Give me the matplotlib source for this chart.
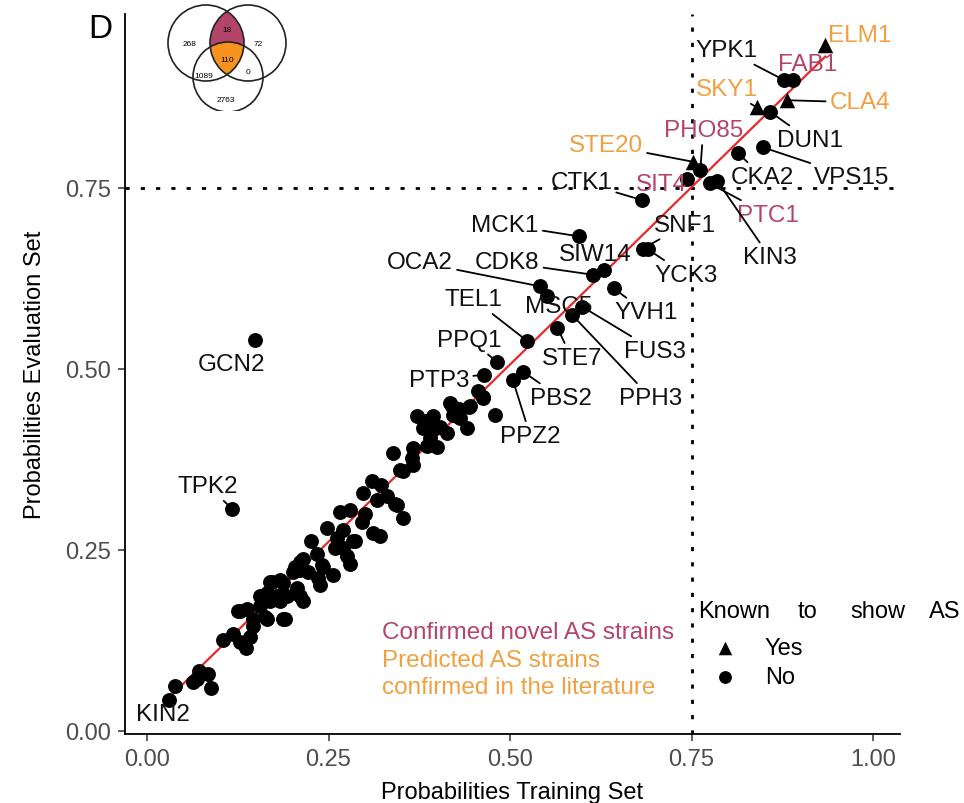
import numpy as np
import matplotlib
matplotlib.use("Agg")
import matplotlib.pyplot as plt
from matplotlib.patches import Circle

plt.rcParams['font.family'] = ['Liberation Sans', 'DejaVu Sans']

CRIMSON = '#b4446a'
ORANGE = '#f0a040'

# labelled kinases: name, training prob, evaluation prob, label x, label y
names = ['ELM1', 'YPK1', 'FAB1', 'CLA4', 'SKY1', 'DUN1', 'VPS15', 'CKA2',
         'STE20', 'PHO85', 'SIT4', 'PTC1', 'KIN3', 'CTK1', 'MCK1', 'SNF1',
         'YCK3', 'SIW14', 'CDK8', 'YVH1', 'OCA2', 'MSC5', 'FUS3', 'PPH3',
         'STE7', 'TEL1', 'PPQ1', 'PTP3', 'PBS2', 'PPZ2', 'GCN2', 'TPK2', 'KIN2']
lab_train = [0.934, 0.877, 0.889, 0.881, 0.840, 0.858, 0.848, 0.814,
             0.752, 0.762, 0.744, 0.775, 0.785, 0.682, 0.595, 0.683,
             0.690, 0.629, 0.614, 0.643, 0.541, 0.551, 0.599, 0.585,
             0.565, 0.523, 0.482, 0.464, 0.518, 0.504, 0.149, 0.117, 0.030]
lab_eval = [0.947, 0.899, 0.899, 0.871, 0.861, 0.855, 0.806, 0.798,
            0.786, 0.774, 0.762, 0.756, 0.760, 0.733, 0.683, 0.666,
            0.665, 0.636, 0.630, 0.611, 0.614, 0.601, 0.586, 0.575,
            0.557, 0.539, 0.510, 0.492, 0.496, 0.484, 0.540, 0.307, 0.043]
text_x = [0.981, 0.798, 0.910, 0.982, 0.798, 0.913, 0.971, 0.848,
          0.632, 0.766, 0.708, 0.855, 0.858, 0.598, 0.493, 0.741,
          0.742, 0.618, 0.496, 0.687, 0.376, 0.567, 0.700, 0.694,
          0.585, 0.450, 0.444, 0.402, 0.570, 0.528, 0.117, 0.084, 0.022]
text_y = [0.961, 0.940, 0.921, 0.868, 0.886, 0.816, 0.765, 0.765,
          0.809, 0.830, 0.755, 0.713, 0.654, 0.758, 0.699, 0.699,
          0.630, 0.658, 0.647, 0.578, 0.647, 0.587, 0.525, 0.460,
          0.515, 0.596, 0.540, 0.485, 0.460, 0.407, 0.507, 0.338, 0.024]
known_as = ['ELM1', 'CLA4', 'SKY1', 'STE20']
novel = ['FAB1', 'PHO85', 'SIT4', 'PTC1']
literature = ['ELM1', 'SKY1', 'CLA4', 'STE20']
no_segment = ['FAB1', 'SIT4', 'MSC5', 'SIW14', 'GCN2', 'KIN2', 'ELM1']

# unlabelled kinases
other_train = [0.039, 0.063, 0.072, 0.084, 0.088, 0.069, 0.105, 0.118, 0.128, 0.136,
               0.142, 0.125, 0.138, 0.146, 0.163, 0.156, 0.165, 0.172, 0.183, 0.190,
               0.187, 0.207, 0.215, 0.211, 0.179, 0.204, 0.215, 0.234, 0.241, 0.222,
               0.256, 0.238, 0.248, 0.270, 0.262, 0.284, 0.270, 0.275, 0.280, 0.266,
               0.280, 0.296, 0.311, 0.321, 0.310, 0.298, 0.317, 0.331, 0.342, 0.353,
               0.339, 0.353, 0.365, 0.366, 0.366, 0.383, 0.394, 0.390, 0.386, 0.399,
               0.413, 0.417, 0.421, 0.431, 0.441, 0.444, 0.463, 0.479, 0.146, 0.165,
               0.187, 0.169, 0.211, 0.344, 0.259, 0.287, 0.242, 0.236, 0.201, 0.183,
               0.156, 0.187, 0.193, 0.169, 0.372, 0.380, 0.397, 0.427, 0.420, 0.445,
               0.463, 0.128, 0.211, 0.226, 0.300, 0.322, 0.348, 0.404, 0.430, 0.456]
other_eval = [0.062, 0.068, 0.083, 0.078, 0.060, 0.072, 0.126, 0.134, 0.123, 0.114,
              0.130, 0.165, 0.169, 0.155, 0.158, 0.173, 0.190, 0.206, 0.179, 0.155,
              0.204, 0.197, 0.179, 0.222, 0.186, 0.227, 0.238, 0.245, 0.229, 0.220,
              0.215, 0.201, 0.280, 0.277, 0.266, 0.263, 0.252, 0.241, 0.231, 0.303,
              0.305, 0.289, 0.273, 0.269, 0.345, 0.328, 0.319, 0.324, 0.314, 0.294,
              0.384, 0.359, 0.377, 0.367, 0.391, 0.428, 0.435, 0.404, 0.393, 0.392,
              0.411, 0.453, 0.436, 0.432, 0.418, 0.447, 0.460, 0.436, 0.145, 0.155,
              0.155, 0.206, 0.234, 0.312, 0.252, 0.262, 0.227, 0.211, 0.220, 0.208,
              0.187, 0.187, 0.187, 0.180, 0.435, 0.418, 0.418, 0.435, 0.449, 0.449,
              0.461, 0.165, 0.187, 0.262, 0.300, 0.340, 0.360, 0.420, 0.445, 0.470]

# Venn counts and their spots (inset pixel units)
venn_counts = ['268', '72', '18', '110', '1089', '0', '2763']
venn_x = [190, 258, 227, 227, 204, 248, 226]
venn_y = [44, 44, 30, 60, 76, 72, 100]

fig = plt.figure(figsize=(9.64, 8.04), dpi=100)
ax = fig.add_axes([0.1297, 0.0858, 0.8039, 0.8955])

all_x = np.array(lab_train + other_train)
all_y = np.array(lab_eval + other_eval)
coef = np.polyfit(all_x, all_y, 1)
xs = np.array([all_x.min() - 0.005, all_x.max()])
ax.plot(xs, np.polyval(coef, xs), color='#e8282a', lw=1.6, zorder=2)

ax.axvline(0.75, color='black', lw=2, ls=(0, (1.5, 4)), zorder=1)
ax.axhline(0.75, color='black', lw=2, ls=(0, (1.5, 4)), zorder=1)

ax.scatter(other_train, other_eval, s=115, color='black', zorder=3, linewidths=0)
for n, x, y in zip(names, lab_train, lab_eval):
    mk = '^' if n in known_as else 'o'
    ax.scatter([x], [y], s=125 if mk == '^' else 115, marker=mk, color='black',
               zorder=3, linewidths=0)

for n, x, y, tx, ty in zip(names, lab_train, lab_eval, text_x, text_y):
    col = CRIMSON if n in novel else (ORANGE if n in literature else '#111111')
    props = None
    if n not in no_segment:
        props = dict(arrowstyle='-', color='black', lw=1.3, shrinkA=1, shrinkB=2)
    ax.annotate(n, xy=(x, y), xytext=(tx, ty), ha='center', va='center',
                fontsize=17.5, color=col, arrowprops=props, zorder=4)

ax.text(0.324, 0.137, 'Confirmed novel AS strains', color=CRIMSON, fontsize=17.5,
        va='center', ha='left')
ax.text(0.324, 0.098, 'Predicted AS strains', color=ORANGE, fontsize=17.5,
        va='center', ha='left')
ax.text(0.324, 0.061, 'confirmed in the literature', color=ORANGE, fontsize=17.5,
        va='center', ha='left')

# legend
for word, wx in zip(['Known', 'to', 'show', 'AS'], [0.759, 0.896, 0.968, 1.077]):
    ax.text(wx, 0.165, word, fontsize=17, va='center', ha='left', clip_on=False)
ax.scatter([0.796], [0.114], marker='^', s=95, color='black', clip_on=False, linewidths=0)
ax.scatter([0.796], [0.075], marker='o', s=85, color='black', clip_on=False, linewidths=0)
ax.text(0.851, 0.114, 'Yes', fontsize=17, va='center', ha='left')
ax.text(0.851, 0.075, 'No', fontsize=17, va='center', ha='left')

ax.set_xlim(-0.0303, 1.037)
ax.set_ylim(-0.0042, 0.99)
ax.set_xticks([0, 0.25, 0.5, 0.75, 1.0])
ax.set_yticks([0, 0.25, 0.5, 0.75])
ax.set_xticklabels(['0.00', '0.25', '0.50', '0.75', '1.00'])
ax.set_yticklabels(['0.00', '0.25', '0.50', '0.75'])
ax.tick_params(labelsize=17, labelcolor='#4d4d4d', color='#333333', length=5, width=1.1, pad=5)
for s in ['top', 'right']:
    ax.spines[s].set_visible(False)
for s in ['left', 'bottom']:
    ax.spines[s].set_linewidth(1.3)
ax.set_xlabel('Probabilities Training Set', fontsize=17, labelpad=8)
ax.set_ylabel('Probabilities Evaluation Set', fontsize=17, labelpad=14)

fig.text(100 / 964, 1 - 30 / 804, 'D', fontsize=24, ha='center', va='center')

# Venn inset
vax = fig.add_axes([165 / 964, 1 - 112 / 804, 125 / 964, 112 / 804])
vax.set_xlim(165, 290)
vax.set_ylim(112, 0)
vax.set_aspect('equal')
vax.axis('off')
cx = [206, 248, 228]
cy = [44, 44, 78]
r = [38, 38, 35]
gx, gy = np.meshgrid(np.linspace(165, 290, 500), np.linspace(0, 112, 450))
inside = [(gx - a) ** 2 + (gy - b) ** 2 <= c ** 2 for a, b, c in zip(cx, cy, r)]
img = np.ones(gx.shape + (4,))
img[..., 3] = 0
top = inside[0] & inside[1] & ~inside[2]
mid = inside[0] & inside[1] & inside[2]
img[top] = matplotlib.colors.to_rgba(CRIMSON)
img[mid] = matplotlib.colors.to_rgba('#f7931e')
vax.imshow(img, extent=(165, 290, 112, 0), zorder=1, interpolation='bilinear')
for a, b, c in zip(cx, cy, r):
    vax.add_patch(Circle((a, b), c, fill=False, lw=1.2, color='#222222', zorder=2))
for t, x, y in zip(venn_counts, venn_x, venn_y):
    vax.text(x, y, t, fontsize=6, ha='center', va='center', zorder=3)

fig.savefig('out.png', dpi=100)
